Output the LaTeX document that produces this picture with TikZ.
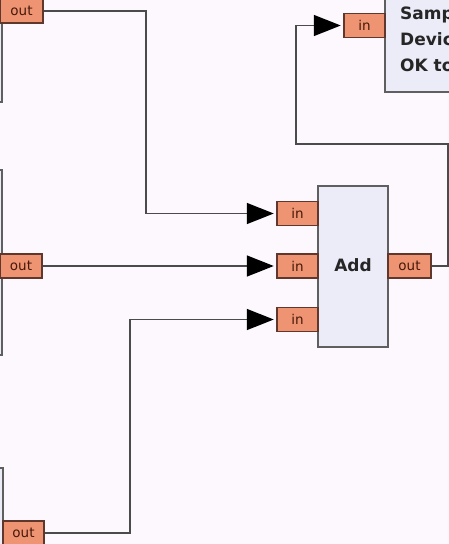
\documentclass[tikz,border=0pt]{standalone}
\usepackage{fontspec}
\setmainfont{DejaVu Sans}
\usetikzlibrary{arrows.meta}
\definecolor{bgc}{RGB}{253,248,253}
\definecolor{portfill}{RGB}{238,148,114}
\definecolor{portdraw}{RGB}{95,55,45}
\definecolor{porttext}{RGB}{70,25,10}
\definecolor{blockfill}{RGB}{236,236,249}
\definecolor{blockdraw}{RGB}{95,95,95}
\definecolor{wirec}{RGB}{75,75,75}
\tikzset{
  port/.style={draw=portdraw, fill=portfill, line width=1.5pt, inner sep=0pt,
    minimum width=41pt, minimum height=24pt, font=\fontsize{13.5}{13.5}\selectfont, text=porttext},
  blockbox/.style={draw=blockdraw, fill=blockfill, line width=1.5pt, inner sep=0pt},
  wire/.style={draw=wirec, line width=1.7pt},
  arrowwire/.style={wire, -{Triangle[length=27pt,width=21pt,color=black]}, shorten >=2.5pt},
  blocktext/.style={font=\fontsize{17}{17}\selectfont\bfseries, text=black!85},
}
\begin{document}
\begin{tikzpicture}[x=1pt,y=-1pt]
\useasboundingbox (0,0) rectangle (449,544);
\fill[bgc] (0,0) rectangle (449,544);
\clip (0,0) rectangle (449,544);
% left blocks (only their right edges visible)
\node[blockbox, minimum width=102pt, minimum height=152pt] (lb1) at (-49,26) {};
\node[blockbox, minimum width=102pt, minimum height=185pt] (lb2) at (-49,262.5) {};
\node[blockbox, minimum width=104pt, minimum height=133pt] (lb3) at (-49,534.5) {};
% Add block
\node[blockbox, minimum width=70pt, minimum height=161pt] (add) at (353,266.5) {};
\node[blocktext] (addlbl) at (353,265) {Add};
% sample block (top right)
\node[blockbox, minimum width=120pt, minimum height=142pt] (snk) at (445,21) {};
\node[blocktext, anchor=base west, inner sep=0pt] (t1) at (400,19) {Samp};
\node[blocktext, anchor=base west, inner sep=0pt] (t2) at (400,45) {Devic};
\node[blocktext, anchor=base west, inner sep=0pt] (t3) at (400,71) {OK to};
% ports
\node[port, minimum width=43pt] (o1) at (21.5,11) {out};
\node[port, minimum width=42pt] (o2) at (21,266) {out};
\node[port, minimum width=41pt] (o3) at (23.5,533) {out};
\node[port] (i1) at (297.5,213.5) {in};
\node[port] (i2) at (297.5,266) {in};
\node[port] (i3) at (297.5,319.5) {in};
\node[port, minimum width=43pt] (aout) at (409.5,266) {out};
\node[port] (si) at (364.5,25.5) {in};
% connectors
\draw[arrowwire] (o1.east) -- ++(102,0) |- (i1.west);
\draw[arrowwire] (o2.east) -- (i2.west);
\draw[arrowwire] (o3.east) -- ++(85,0) |- (i3.west);
\draw[arrowwire] (aout.east) -- ++(16.5,0) |- (296,144) |- (si.west);
\end{tikzpicture}
\end{document}
